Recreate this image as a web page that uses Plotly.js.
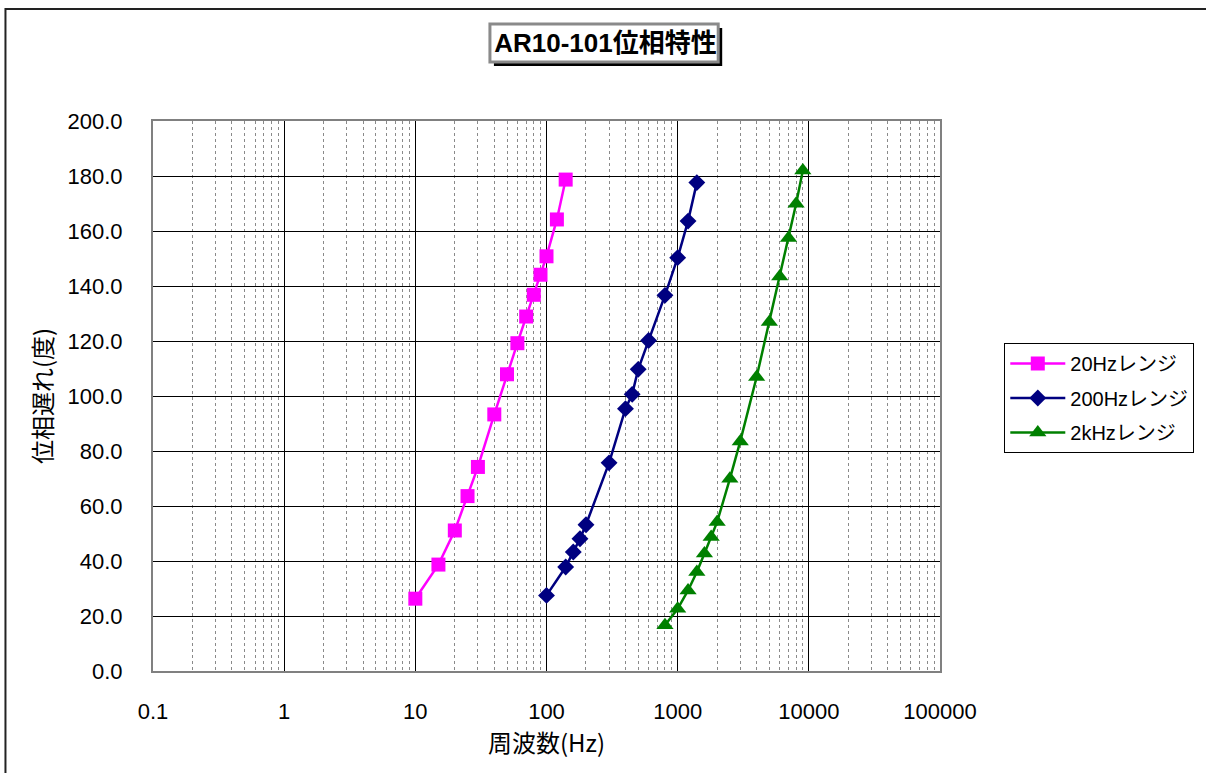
<!DOCTYPE html>
<html><head><meta charset="utf-8">
<script src="https://cdn.plot.ly/plotly-3.0.1.min.js"></script>
<style>html,body{margin:0;padding:0;background:#fff}#chart{width:1206px;height:773px}</style>
</head><body><div id="chart"></div>
<script>
// ---- data ----
const seriesNames = ["20Hzレンジ", "200Hzレンジ", "2kHzレンジ"];
const freq20  = [10, 15, 20, 25, 30, 40, 50, 60, 70, 80, 90, 100, 120, 140];
const phase20 = [26.3, 38.7, 51.1, 63.6, 74.2, 93.3, 107.9, 119.2, 128.9, 136.8, 144.1, 150.8, 164.2, 178.7];
const freq200  = [100, 140, 160, 180, 200, 300, 400, 450, 500, 600, 800, 1000, 1200, 1400];
const phase200 = [27.5, 37.8, 43.3, 48.1, 53.2, 75.7, 95.4, 100.6, 109.7, 120.2, 136.6, 150.3, 163.6, 177.6];
const freq2k  = [800, 1000, 1200, 1400, 1600, 1800, 2000, 2500, 3000, 4000, 5000, 6000, 7000, 8000, 9000];
const phase2k = [16.6, 22.6, 29.3, 36.0, 42.7, 48.7, 54.2, 69.9, 83.5, 106.9, 126.9, 143.5, 157.5, 169.9, 182.0];
const xTickVals = [0.1, 1, 10, 100, 1000, 10000, 100000];
const xTickText = ["0.1", "1", "10", "100", "1000", "10000", "100000"];

// ---- helpers ----
const minorVals = [];
for (let d = -1; d <= 4; d++) for (let m = 2; m <= 9; m++) minorVals.push(m * Math.pow(10, d));

const L = 153, R = 942.5, T = 121, B = 671, W = 1206, H = 773;
const px = v => (v - L) / (R - L);
const py = v => (B - v) / (B - T);

const latin = "'Liberation Sans', Arial, 'Noto Sans CJK JP', sans-serif";
const cjk = "'Noto Sans CJK JP', 'Liberation Sans', sans-serif";

const traces = [
  {x: freq20, y: phase20, name: seriesNames[0], legendgroup: "a", mode: "lines+markers",
   line: {color: "#FF00FF", width: 2.5}, marker: {symbol: "square", size: 14, color: "#FF00FF"}},
  {x: freq200, y: phase200, name: seriesNames[1], legendgroup: "b", mode: "lines+markers",
   line: {color: "#000080", width: 2.5}, marker: {symbol: "diamond", size: 13, color: "#000080"}},
  {x: freq2k, y: phase2k, name: seriesNames[2], legendgroup: "c", mode: "lines+markers",
   line: {color: "#008000", width: 2.5}, marker: {symbol: "triangle-up", size: 15, color: "#008000"}}
];

const layout = {
  width: W, height: H,
  margin: {l: L, r: W - R, t: T, b: H - B, pad: 0},
  paper_bgcolor: "#fff", plot_bgcolor: "#fff",
  showlegend: true,
  title: {text: "AR10-101位相特性", x: 605.5 / W, xref: "container", xanchor: "center",
          y: 1 - 43 / H, yref: "container", yanchor: "middle",
          font: {family: latin, size: 26, color: "#000", weight: "bold"}},
  xaxis: {
    type: "log", range: [-1, 5], tickmode: "array", tickvals: xTickVals, ticktext: xTickText,
    showgrid: true, gridcolor: "#000", gridwidth: 1,
    minor: {tickmode: "array", tickvals: minorVals, showgrid: true, gridcolor: "#8a8a8a", gridwidth: 1, griddash: "dot", ticks: ""},
    showline: true, linecolor: "#808080", linewidth: 2, mirror: true,
    ticks: "", ticklabelstandoff: 20, zeroline: false,
    tickfont: {family: latin, size: 22, color: "#000"},
    title: {text: "周波数(Hz)", standoff: 12, font: {family: cjk, size: 24, color: "#000"}}
  },
  yaxis: {
    range: [0, 200], dtick: 20, tick0: 0, tickformat: ".1f",
    showgrid: true, gridcolor: "#000", gridwidth: 1,
    showline: true, linecolor: "#808080", linewidth: 2, mirror: true,
    ticks: "", ticklabelstandoff: 24, zeroline: false,
    tickfont: {family: latin, size: 22, color: "#000"},
    title: {text: "位相遅れ(度)", standoff: 8, font: {family: cjk, size: 24, color: "#000"}}
  },
  legend: {
    x: px(1007), y: py(343), xanchor: "left", yanchor: "top",
    bordercolor: "#000", borderwidth: 1, bgcolor: "#fff",
    traceorder: "grouped", tracegroupgap: 5.5, itemwidth: 55,
    font: {family: latin, size: 20, color: "#000"}
  },
  shapes: [
    {type: "rect", xref: "paper", yref: "paper", x0: px(5), x1: px(1215), y0: py(785), y1: py(9),
     line: {color: "#222", width: 2}, fillcolor: "rgba(0,0,0,0)", layer: "below"},
    {type: "rect", xref: "paper", yref: "paper", x0: px(495), x1: px(724), y0: py(66), y1: py(28),
     line: {width: 0}, fillcolor: "#000", layer: "above"},
    {type: "rect", xref: "paper", yref: "paper", x0: px(491), x1: px(720), y0: py(62), y1: py(24),
     line: {color: "#8a8a8a", width: 3}, fillcolor: "#fff", layer: "above"}
  ]
};

Plotly.newPlot("chart", traces, layout, {displayModeBar: false, staticPlot: true});
</script>
</body></html>
